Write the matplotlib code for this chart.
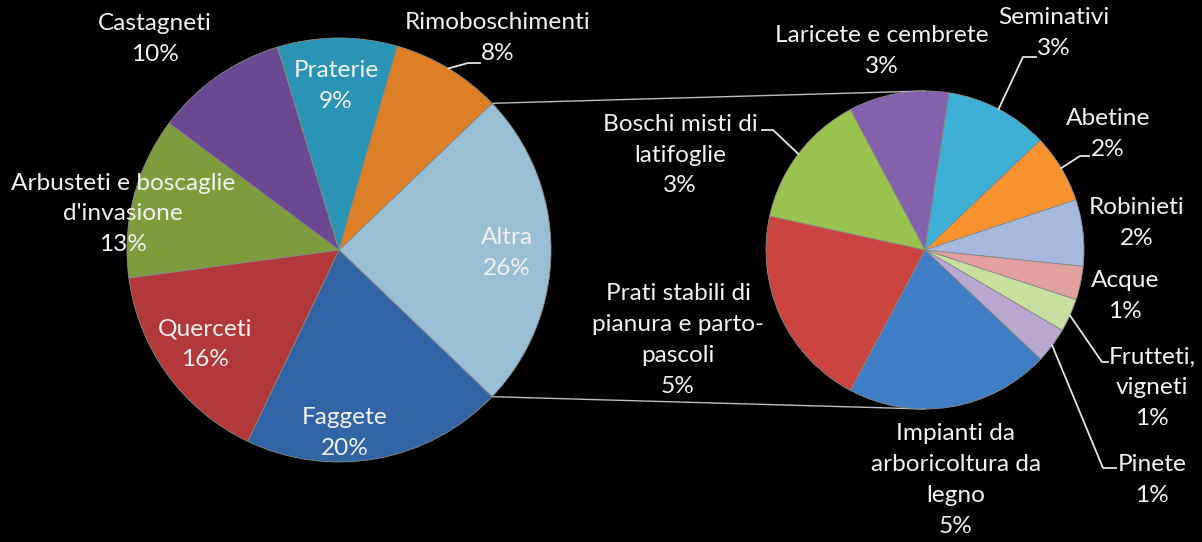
import matplotlib.pyplot as plt
import numpy as np

# main pie (percent of total area, measured from the slice angles)
main_labels = ['Altra', 'Faggete', 'Querceti', "Arbusteti e boscaglie\nd'invasione",
               'Castagneti', 'Praterie', 'Rimoboschimenti']
main_values = [24.3, 19.9, 15.8, 12.3, 10.1, 9.1, 8.4]
main_pct = ['26%', '20%', '16%', '13%', '10%', '9%', '8%']
main_colors = ['#98BFD3', '#3064A5', '#B33839', '#7E9C3B', '#6A4992', '#2A94B4', '#DE7F26']

# secondary pie: the breakdown of "Altra"
sub_labels = ['Laricete e cembrete', 'Seminativi', 'Abetine', 'Robinieti', 'Acque',
              'Frutteti,\nvigneti', 'Pinete', 'Impianti da\narboricoltura da\nlegno',
              'Prati stabili di\npianura e parto-\npascoli', 'Boschi misti di\nlatifoglie']
sub_values = [2.48, 2.54, 1.70, 1.64, 0.83, 0.82, 0.88, 5.03, 5.02, 3.35]
sub_pct = ['3%', '3%', '2%', '2%', '1%', '1%', '1%', '5%', '5%', '3%']
sub_colors = ['#8461AD', '#3DB1D5', '#F7922F', '#A6B9DC', '#E2A0A0', '#C8DFA0',
              '#B8A8CF', '#3F7DC5', '#CB4440', '#9BC14F']

W, H = 1202, 542
TXT = '#F2F2F2'
FONT = 'Lato'

fig = plt.figure(figsize=(W / 100, H / 100), dpi=100, facecolor='black')
ax = fig.add_axes([0, 0, 1, 1])
ax.set_facecolor('black')

c1, r1 = (339, H - 250), 212
c2, r2 = (925, H - 250), 159

start1 = 360 * main_values[0] / sum(main_values) / 2
wedges1, _ = ax.pie(main_values, colors=main_colors, center=c1, radius=r1,
                    startangle=start1, counterclock=False, frame=True,
                    wedgeprops=dict(edgecolor='#8a8a8a', linewidth=0.6, zorder=3))
start2 = 118.0
wedges2, _ = ax.pie(sub_values, colors=sub_colors, center=c2, radius=r2,
                    startangle=start2, counterclock=False, frame=True,
                    wedgeprops=dict(edgecolor='#8a8a8a', linewidth=0.6, zorder=3))
ax.set_xlim(0, W)
ax.set_ylim(0, H)
ax.set_aspect('equal')
ax.axis('off')


def edge_point(w, c, r):
    a = np.deg2rad((w.theta1 + w.theta2) / 2)
    return c[0] + r * np.cos(a), c[1] + r * np.sin(a)


# connector lines between the "Altra" slice and the second pie
alt = wedges1[0]
for ang, yy in [(alt.theta2, c2[1] + r2), (alt.theta1, c2[1] - r2)]:
    a = np.deg2rad(ang)
    ax.plot([c1[0] + r1 * np.cos(a), c2[0]], [c1[1] + r1 * np.sin(a), yy],
            color='#BDBDBD', lw=1.0, zorder=1)


def label(x, y, text, size=17.6):
    ax.text(x, H - y, text, color=TXT, fontsize=size, family=FONT,
            ha='center', va='center', linespacing=1.58, zorder=5)


# labels of the main pie
main_pos = [(507, 253), (345, 433), (205, 344), (123, 214), (155, 39), (336, 86), (498, 38)]
for (x, y), name, p in zip(main_pos, main_labels, main_pct):
    label(x, y, f'{name}\n{p}')

# labels of the secondary pie
sub_pos = [(882, 51), (1054, 33), (1108, 134), (1137, 223), (1125, 296),
           (1152, 388), (1152, 480), (956, 480), (678, 340), (680, 155)]
for (x, y), name, p in zip(sub_pos, sub_labels, sub_pct):
    label(x, y, f'{name}\n{p}')

# leader lines: (wedge, centre, radius, elbow, end) with elbow/end in pixel coords
leaders = [
    (wedges1[6], c1, r1, (468, 63), (480, 63)),
    (wedges2[1], c2, r2, (1023, 57), (1036, 57)),
    (wedges2[2], c2, r2, (1080, 156), (1089, 156)),
    (wedges2[5], c2, r2, (1102, 362), (1108, 362)),
    (wedges2[6], c2, r2, (1103, 468), (1116, 468)),
    (wedges2[9], c2, r2, (773, 130), (762, 130)),
]
for w, c, r, (ex, ey), (tx, ty) in leaders:
    sx, sy = edge_point(w, c, r)
    ax.plot([sx, ex, tx], [sy, H - ey, H - ty], color='#E6E6E6', lw=1.3, zorder=4)

fig.savefig('out.png', dpi=100, facecolor='black')
